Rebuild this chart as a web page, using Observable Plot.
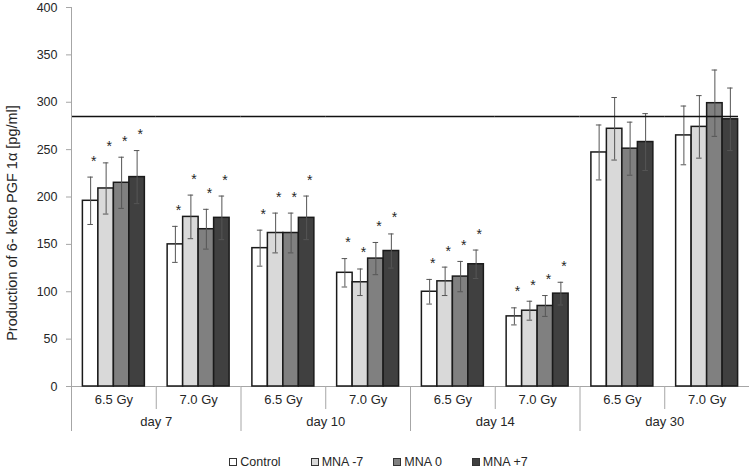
<!DOCTYPE html>
<html><head><meta charset="utf-8">
<script src="https://cdn.jsdelivr.net/npm/d3@7"></script>
<script src="https://cdn.jsdelivr.net/npm/@observablehq/plot@0.6"></script>
<style>
body{margin:0;background:#fff;font-family:"Liberation Sans",Arial,sans-serif;}
#legend{height:21px;box-sizing:border-box;padding-top:7px;display:flex;justify-content:center;font-size:12.5px;line-height:14px;color:#262626;padding-left:8px;}
.item{display:flex;align-items:center;margin:0 15px;}
.sw{width:6px;height:6px;border:1px solid #333;margin-right:3px;}
</style></head><body><div id="chart"></div><div id="legend"></div>
<script>
const days = ["day 7", "day 10", "day 14", "day 30"];
const doses = ["6.5 Gy", "7.0 Gy"];
const series = ["Control", "MNA -7", "MNA 0", "MNA +7"];
const colors = ["#ffffff", "#d9d9d9", "#808080", "#404040"];
// values per group: day7 6.5, day7 7.0, day10 6.5, day10 7.0, day14 6.5, day14 7.0, day30 6.5, day30 7.0
const control = [196, 150, 146, 120, 100, 74, 247, 265];
const mnaMinus7 = [209, 179, 162, 110, 111, 80, 272, 274];
const mna0 = [215, 166, 162, 135, 116, 85, 251, 299];
const mnaPlus7 = [221, 178, 178, 143, 129, 98, 258, 282];
const controlErr = [25, 19, 19, 15, 13, 9, 29, 31];
const mnaMinus7Err = [27, 23, 21, 14, 15, 10, 33, 33];
const mna0Err = [27, 21, 21, 17, 16, 11, 28, 35];
const mnaPlus7Err = [28, 23, 23, 18, 15, 12, 30, 33];
const significant = [true, true, true, true, true, true, false, false];
const refLine = 285;
const yTicks = [0, 50, 100, 150, 200, 250, 300, 350, 400];
const yLabel = "Production of 6- keto PGF 1α [pg/ml]";

const values = [control, mnaMinus7, mna0, mnaPlus7];
const errs = [controlErr, mnaMinus7Err, mna0Err, mnaPlus7Err];

const groups = [];
days.forEach(day => doses.forEach(dose => groups.push({g: day + "|" + dose, day, dose})));
const groupKeys = groups.map(d => d.g);
const rows = [];
groups.forEach((gr, i) => series.forEach((s, j) => rows.push({g: gr.g, s, v: values[j][i], e: errs[j][i], sig: significant[i]})));

const W = 749, ML = 71, MR = 0, MT = 7, MB = 62, H = 448;
const pad = 0.735;
const facetW = (W - ML - MR) / groupKeys.length;
const step = facetW / (series.length + 2 * pad);
const edgeDx = -(pad * step + step / 2);
const sepRows = groups.map((gr, i) => ({g: gr.g, top: i === 0 ? 400 : 0, bottom: i % 2 === 0 ? -47.5 : -24.3}));
const dayRows = groups.filter((gr, i) => i % 2 === 0);
const gridColor = "#a6a6a6";
const textColor = "#262626";

const chart = Plot.plot({
  width: W, height: H,
  marginLeft: ML, marginRight: MR, marginTop: MT, marginBottom: MB,
  style: {fontFamily: "Liberation Sans, Arial, sans-serif", fontSize: "12px", color: textColor, background: "#fff"},
  fx: {domain: groupKeys, padding: 0, round: false, axis: null},
  x: {domain: series, paddingInner: 0, paddingOuter: pad, round: false, axis: null},
  y: {domain: [0, 400], axis: null},
  color: {domain: series, range: colors},
  marks: [
    Plot.ruleY(groups, {fx: "g", y: () => 0, stroke: gridColor, strokeWidth: 1}),
    Plot.axisY(yTicks, {tickSize: 5, tickPadding: 9, stroke: gridColor, fill: textColor, label: null, fontSize: 12.5}),
    Plot.barY(rows, {fx: "g", x: "s", y1: () => 0, y2: "v", fill: "s", stroke: "#1a1a1a", strokeWidth: 1.5}),
    Plot.ruleX(rows, {fx: "g", x: "s", y1: d => d.v - d.e, y2: d => d.v + d.e, stroke: "#555", strokeWidth: 1}),
    Plot.tickY(rows, {fx: "g", x: "s", y: d => d.v + d.e, stroke: "#555", strokeWidth: 1, insetLeft: 5, insetRight: 5}),
    Plot.tickY(rows, {fx: "g", x: "s", y: d => d.v - d.e, stroke: "#555", strokeWidth: 1, insetLeft: 5, insetRight: 5}),
    Plot.text(rows.filter(d => d.sig), {fx: "g", x: "s", y: d => d.v + d.e, text: () => "*", dx: 3, dy: -16, fontSize: 14, fill: textColor}),
    Plot.ruleY(groups.slice(0, -1), {fx: "g", y: () => refLine, stroke: "#111", strokeWidth: 1.5}),
    Plot.ruleY(groups.slice(-1), {fx: "g", y: () => refLine, stroke: "#111", strokeWidth: 1.5, insetRight: 11}),
    Plot.ruleX(sepRows, {fx: "g", x: () => series[0], y1: "top", y2: "bottom", dx: edgeDx, stroke: gridColor, strokeWidth: 1}),
    Plot.text(groups, {fx: "g", text: "dose", frameAnchor: "bottom", dy: 17, fontSize: 13, fill: textColor}),
    Plot.text(dayRows, {fx: "g", text: "day", frameAnchor: "bottom-right", textAnchor: "middle", dy: 39, fontSize: 13, fill: textColor}),
    Plot.text([groups[0]], {fx: "g", text: () => yLabel, frameAnchor: "left", textAnchor: "middle", rotate: -90, dx: -59, dy: 26, fontSize: 14.5, fill: textColor})
  ]
});
document.getElementById("chart").appendChild(chart);

const legend = document.getElementById("legend");
series.forEach((s, i) => {
  const item = document.createElement("div");
  item.className = "item";
  const sw = document.createElement("div");
  sw.className = "sw";
  sw.style.background = colors[i];
  const label = document.createElement("span");
  label.textContent = s;
  item.appendChild(sw);
  item.appendChild(label);
  legend.appendChild(item);
});
</script>
</body></html>
